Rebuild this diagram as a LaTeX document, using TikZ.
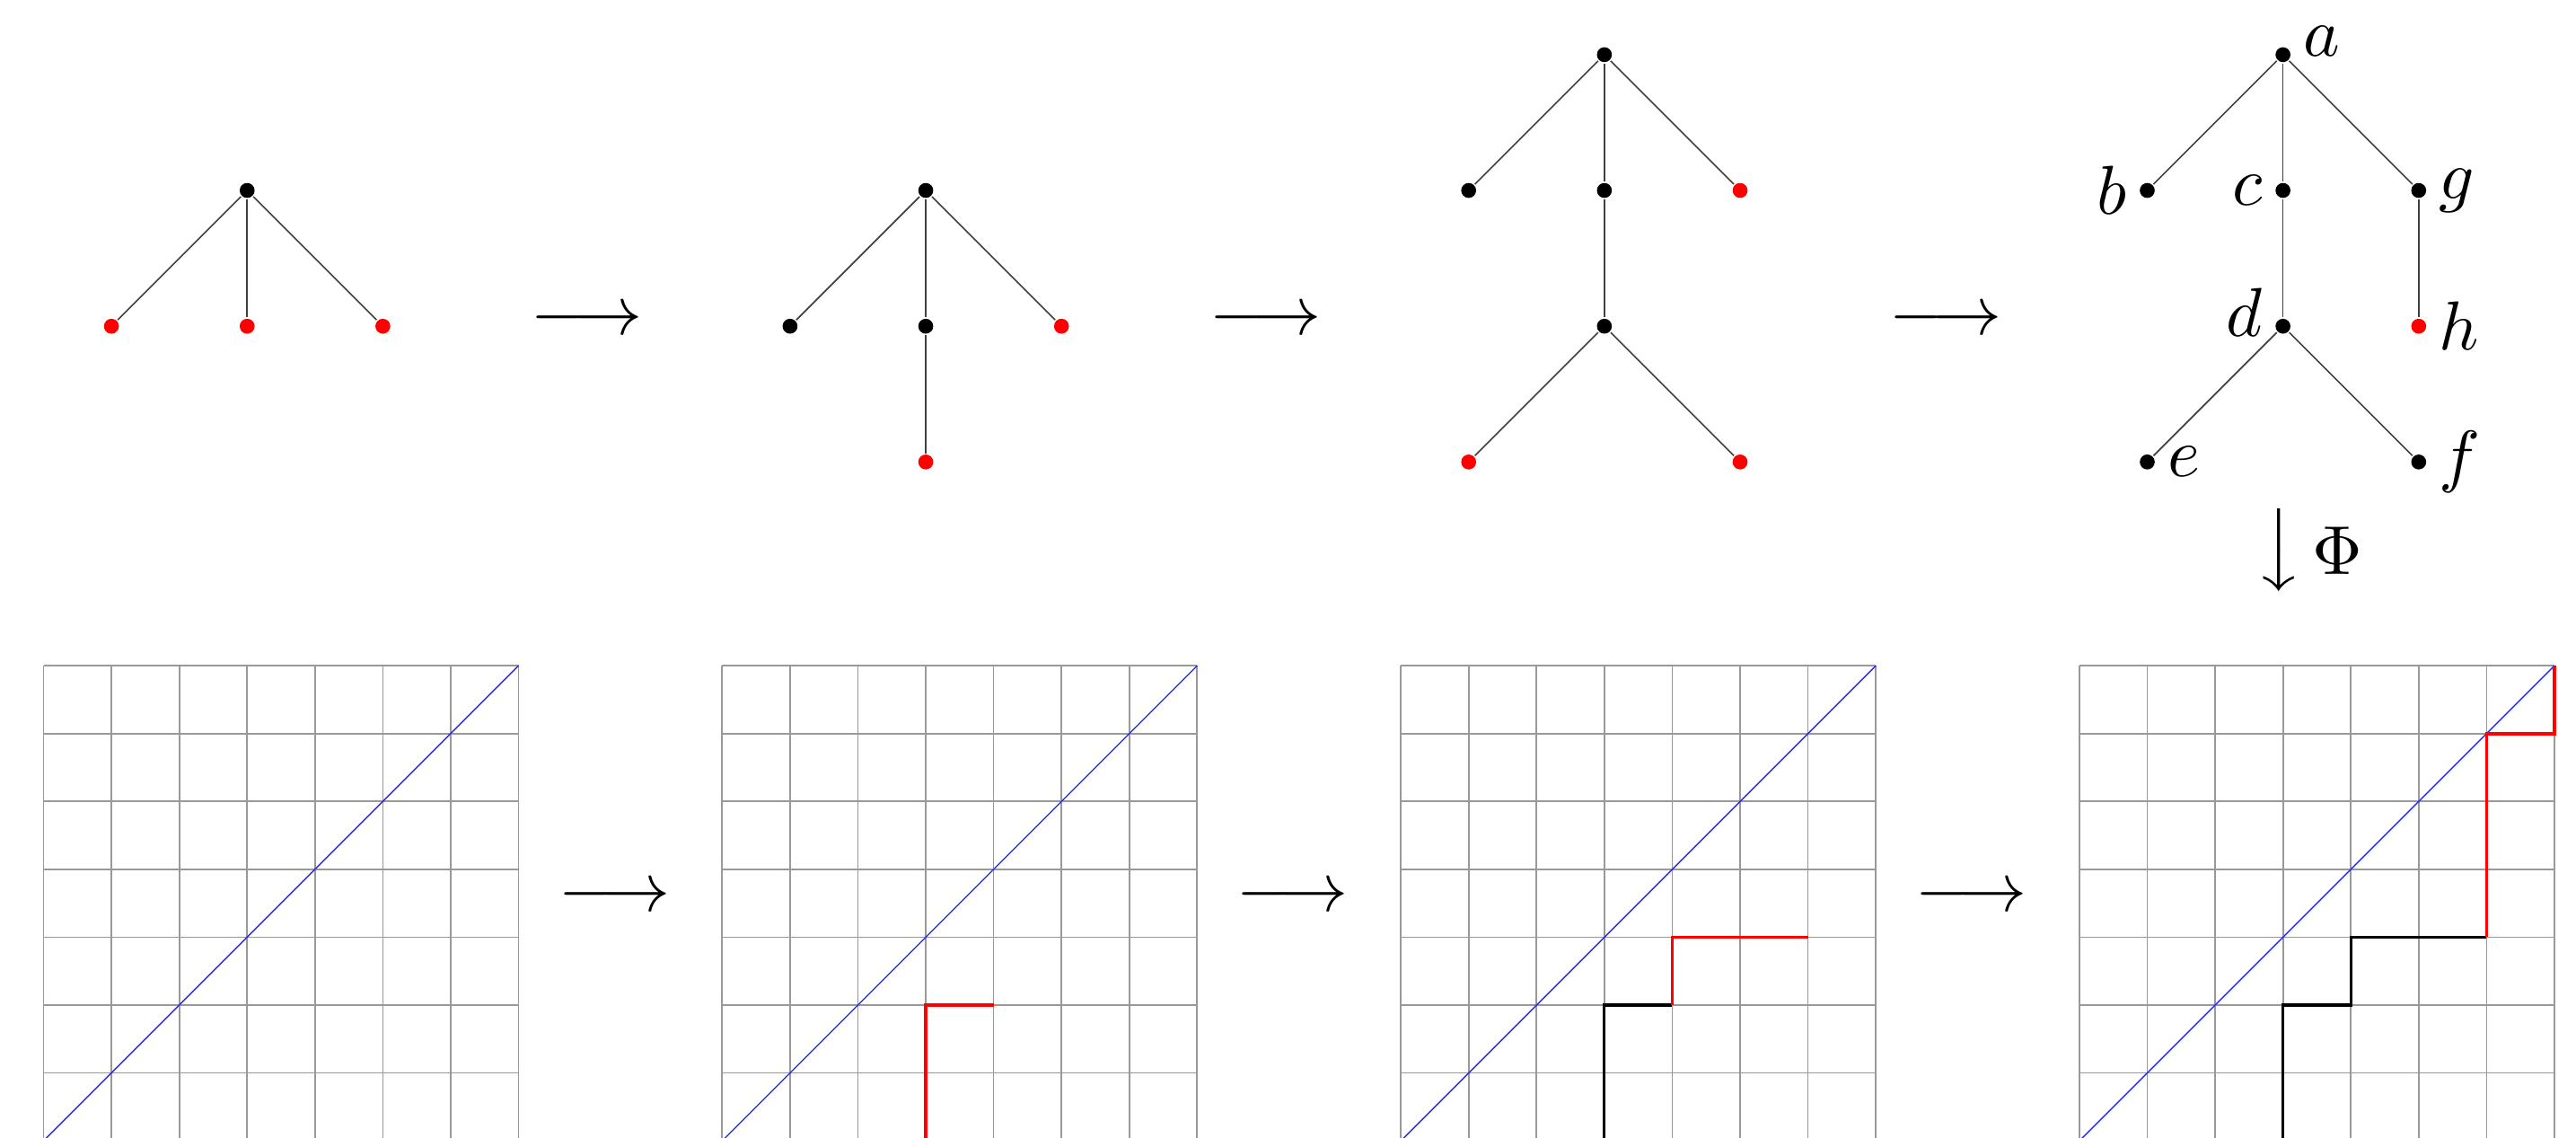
\documentclass[tikz,border=0pt]{standalone}
\begin{document}
\begin{tikzpicture}[x=0.3448cm,y=0.3448cm,
  dot/.style={circle,fill=black,inner sep=0pt,minimum size=0.0759cm},
  rdot/.style={dot,fill=red},
  edge/.style={black!75,line width=0.21pt},
  gridline/.style={gray!80,line width=0.22pt},
  diag/.style={blue!85,line width=0.18pt},
  bpath/.style={black,line width=0.4pt},
  rpath/.style={red,line width=0.48pt},
  every label/.style={inner sep=0pt},
  lblgap/.style={label distance=0.052cm}]
\useasboundingbox (-0.642,0.053) rectangle (37.318,16.806);

% ---------- grids ----------
\foreach \o in {0,10,20,30}{
  \draw[gridline,step=1] (\o,0) grid (\o+7,7);
  \draw[diag] (\o,0) -- (\o+7,7);
}
% grid 2
\draw[rpath] (13,0) -- (13,2) -- (14,2);
% grid 3
\draw[bpath] (23,0) -- (23,2) -- (24,2);
\draw[rpath] (24,2) -- (24,3) -- (26,3);
% grid 4
\draw[bpath] (33,0) -- (33,2) -- (34,2) -- (34,3) -- (36,3);
\draw[rpath] (36,3) -- (36,6) -- (37,6) -- (37,7);

% ---------- tree 1 ----------
\node[dot]  (t1r) at (3,14) {};
\node[rdot] (t1a) at (1,12) {};
\node[rdot] (t1b) at (3,12) {};
\node[rdot] (t1c) at (5,12) {};
\draw[edge] (t1r) -- (t1a);
\draw[edge] (t1r) -- (t1b);
\draw[edge] (t1r) -- (t1c);

% ---------- tree 2 ----------
\node[dot]  (t2r) at (13,14) {};
\node[dot]  (t2a) at (11,12) {};
\node[dot]  (t2b) at (13,12) {};
\node[rdot] (t2c) at (15,12) {};
\node[rdot] (t2d) at (13,10) {};
\draw[edge] (t2r) -- (t2a);
\draw[edge] (t2r) -- (t2b);
\draw[edge] (t2r) -- (t2c);
\draw[edge] (t2b) -- (t2d);

% ---------- tree 3 ----------
\node[dot]  (t3r) at (23,16) {};
\node[dot]  (t3a) at (21,14) {};
\node[dot]  (t3b) at (23,14) {};
\node[rdot] (t3c) at (25,14) {};
\node[dot]  (t3d) at (23,12) {};
\node[rdot] (t3e) at (21,10) {};
\node[rdot] (t3f) at (25,10) {};
\draw[edge] (t3r) -- (t3a);
\draw[edge] (t3r) -- (t3b);
\draw[edge] (t3r) -- (t3c);
\draw[edge] (t3b) -- (t3d);
\draw[edge] (t3d) -- (t3e);
\draw[edge] (t3d) -- (t3f);

% ---------- tree 4 ----------
\node[dot,label={[lblgap,yshift=0.069cm]right:$a$}] (na) at (33,16) {};
\node[dot,label={[lblgap]left:$b$}]  (nb) at (31,14) {};
\node[dot,label={[lblgap]left:$c$}]  (nc) at (33,14) {};
\node[dot,label={[lblgap]right:$g$}] (ng) at (35,14) {};
\node[dot,label={[lblgap,yshift=0.069cm]left:$d$}] (nd) at (33,12) {};
\node[rdot,label={[lblgap]right:$h$}] (nh) at (35,12) {};
\node[dot,label={[lblgap]right:$e$}] (ne) at (31,10) {};
\node[dot,label={[lblgap]right:$f$}] (nf) at (35,10) {};
\draw[edge] (na) -- (nb);
\draw[edge] (na) -- (nc);
\draw[edge] (na) -- (ng);
\draw[edge] (nc) -- (nd);
\draw[edge] (ng) -- (nh);
\draw[edge] (nd) -- (ne);
\draw[edge] (nd) -- (nf);

% ---------- arrows ----------
\node (ar1) at (8.01,12.06) {$\longrightarrow$};
\node (ar2) at (18.01,12.06) {$\longrightarrow$};
\node (ar3) at (28.03,12.06) {$\longrightarrow$};
\node (ar4) at (8.41,3.57) {$\longrightarrow$};
\node (ar5) at (18.41,3.57) {$\longrightarrow$};
\node (ar6) at (28.41,3.57) {$\longrightarrow$};
\node[inner sep=0pt] (phiarrow) at (33,8.7) {$\left\downarrow\vcenter to 11pt{}\right.$};
\node[inner sep=0pt] (philabel) at (33.8,8.69) {$\Phi$};
\end{tikzpicture}
\end{document}
